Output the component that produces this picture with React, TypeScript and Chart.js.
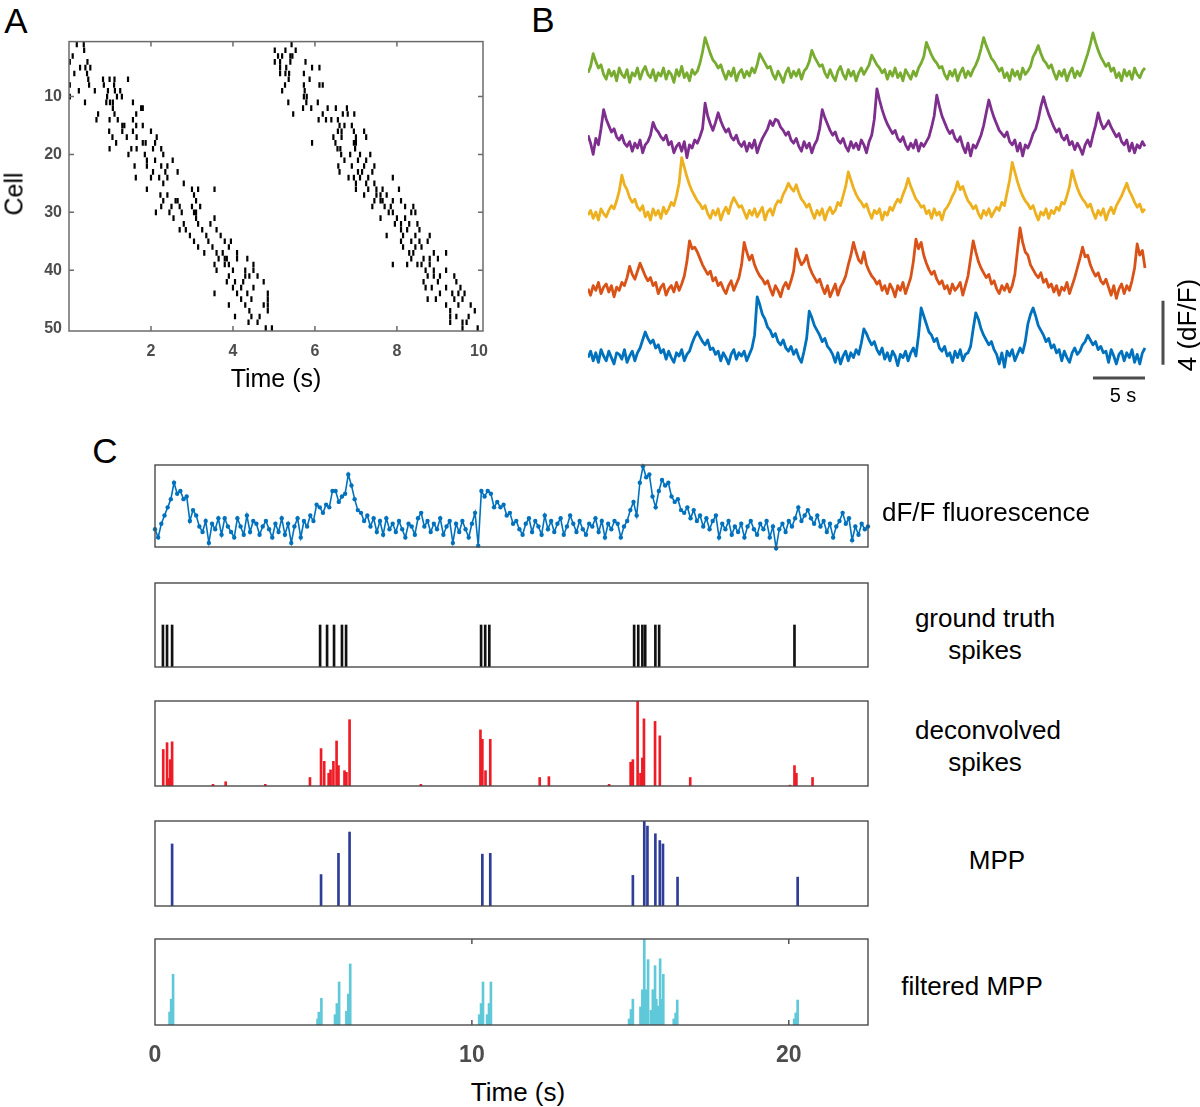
import React, { useEffect, useRef } from "react";
import { Chart, registerables } from "chart.js";
Chart.register(...registerables);

const FONT = '"Liberation Sans", Arial, Helvetica, sans-serif';

// ---------------- Panel A: raster (spike times in s, per cell 1..50) ----------------
const cellSpikeTimes: number[][] = [
  [0.19, 0.36, 5.43],
  [0.37, 5.02, 5.28, 5.53],
  [0.09, 5.1, 5.2, 5.4, 5.45],
  [0.02, 0.45, 5.02, 5.15, 5.4, 5.77],
  [0.27, 0.4, 0.52, 5.15, 5.3, 5.93, 6.11],
  [0.13, 0.44, 5.15, 5.28, 5.37, 5.73],
  [0.47, 0.83, 0.99, 1.11, 1.44, 5.36, 5.87],
  [0.02, 0.49, 0.85, 1.1, 5.27, 5.73, 6.11, 6.19],
  [0.24, 0.63, 0.95, 1.12, 1.25, 5.2, 5.75],
  [0.02, 0.93, 1.17, 1.29, 5.73, 5.8],
  [0.39, 0.91, 1.0, 1.07, 1.56, 5.35, 5.79, 6.07],
  [1.07, 1.76, 1.8, 5.71, 5.91, 6.31, 6.51, 6.78],
  [0.71, 1.11, 1.64, 5.47, 6.19, 6.68, 6.8, 6.96],
  [0.67, 0.99, 1.19, 1.56, 6.09, 6.27, 6.4, 6.56],
  [1.3, 1.35, 1.64, 1.8, 6.6, 6.72, 6.9],
  [0.98, 1.3, 1.56, 2.0, 6.56, 6.65, 6.95, 7.2],
  [1.06, 1.41, 1.65, 2.14, 6.45, 6.65, 7.0, 7.25],
  [1.15, 1.8, 1.87, 2.1, 5.93, 6.5, 6.95, 7.0],
  [0.99, 1.52, 1.65, 2.05, 2.25, 6.55, 6.62, 6.98],
  [1.45, 1.85, 2.3, 6.64, 6.86, 7.1, 7.35],
  [1.9, 2.1, 2.53, 6.72, 7.05, 7.25],
  [1.6, 1.9, 2.25, 2.4, 6.57, 6.9, 7.2, 7.45],
  [2.05, 2.35, 2.65, 6.6, 7.05, 7.15, 7.4],
  [1.63, 2.0, 2.2, 2.4, 6.82, 6.95, 7.1, 7.3, 7.9],
  [2.3, 2.8, 7.0, 7.25, 7.45],
  [1.9, 3.0, 3.15, 3.55, 7.0, 7.3, 7.5, 7.65, 8.05],
  [2.23, 2.4, 3.05, 7.2, 7.5, 7.6, 7.75],
  [2.3, 2.6, 2.65, 3.1, 7.45, 7.6, 7.65, 7.9, 8.1],
  [2.25, 2.5, 2.7, 3.0, 3.2, 7.4, 7.7, 7.85, 8.2, 8.4],
  [2.12, 2.45, 2.75, 3.05, 3.1, 7.8, 7.9, 8.35, 8.45],
  [2.55, 3.1, 3.55, 7.6, 8.0, 8.2],
  [2.8, 3.15, 3.45, 7.95, 8.1, 8.3, 8.5],
  [2.7, 2.85, 3.25, 3.6, 8.1, 8.25, 8.55],
  [2.95, 3.35, 3.7, 7.75, 8.15, 8.45, 8.8],
  [3.05, 3.4, 3.8, 3.95, 8.1, 8.35, 8.55, 8.75],
  [3.15, 3.5, 3.9, 8.15, 8.45, 8.6],
  [3.3, 3.6, 3.75, 4.1, 8.3, 8.4, 8.9, 9.2],
  [3.65, 3.8, 3.85, 4.1, 4.35, 8.35, 8.65, 8.8, 9.0],
  [3.55, 3.8, 3.9, 4.5, 7.9, 8.25, 8.5, 8.6, 8.8],
  [3.6, 4.0, 4.3, 4.5, 8.7, 8.9, 9.2],
  [3.9, 4.3, 4.4, 4.6, 8.75, 8.9, 9.05, 9.4],
  [3.85, 4.05, 4.25, 4.75, 8.65, 9.0, 9.45],
  [4.0, 4.2, 4.5, 8.7, 8.85, 9.2, 9.55],
  [3.55, 4.1, 4.35, 4.85, 9.05, 9.35, 9.5, 9.65],
  [4.2, 4.45, 4.85, 8.75, 8.95, 9.4, 9.6],
  [3.9, 4.3, 4.75, 4.85, 9.2, 9.5, 9.8],
  [4.4, 4.85, 9.3, 9.9],
  [4.05, 4.45, 4.65, 9.3, 9.45, 9.75],
  [4.38, 4.6, 9.3, 9.6, 9.7],
  [4.8, 4.95, 9.6, 9.97],
];
const rasterXTicks = [2, 4, 6, 8, 10];
const rasterYTicks = [10, 20, 30, 40, 50];

// ---------------- Panel B: five traces (tenths of dF/F, sampled every 0.25 s) ----------------
const traceStep = 0.25;
const greenTrace = [
  2, 6, 14, 9, 5, 7, 1, -2, 4, 0, 3, -3, 5, 1, -1, 4, -4, 2, 0, 5,
  -2, 3, 6, 1, -1, 4, -3, 2, 0, 5, -2, 3, 1, -4, 4, 0, 6, -1, 2, -3,
  4, 1, 3, 8, 15, 24, 19, 14, 10, 8, 5, 7, 2, -2, 3, 0, 5, -3, 2, 4,
  -1, 3, 0, 5, 2, 7, 14, 11, 8, 5, 6, 1, -2, 3, 0, -4, 2, 5, -1, 3,
  0, 4, -2, 3, 5, 9, 16, 12, 9, 6, 7, 2, -1, 4, 0, -3, 3, 6, 1, -2,
  4, 0, 3, -3, 2, 5, 1, 4, 7, 13, 10, 7, 5, 2, 4, -2, 3, 0, 5, -1,
  2, -3, 4, 1, -2, 3, 0, 5, 8, 12, 21, 17, 13, 10, 8, 5, 6, 1, -2, 3,
  0, 4, -3, 2, 5, -1, 3, 0, 4, 7, 11, 17, 24, 19, 15, 11, 9, 6, 3, 5,
  -1, 2, -3, 4, 0, 3, -2, 5, 1, 3, 6, 12, 15, 19, 14, 10, 8, 5, 7, 2,
  -2, 3, 0, 4, -3, 2, 5, -1, 3, 0, 4, 9, 14, 20, 27, 21, 16, 12, 9, 6,
  8, 3, 5, -1, 2, -3, 4, 0, 3, -2, 5, 1, -1, 3, 5,
];
const purpleTrace = [
  8, 3, -4, 6, 2, 12, 24, 18, 14, 10, 12, 7, 5, 8, 3, 1, 4, -2, 3, 0,
  5, -3, 2, 4, 8, 16, 12, 10, 7, 5, 8, 2, 4, -3, 1, 3, -2, 4, -6, 2,
  0, 5, 3, 7, 12, 28, 20, 15, 11, 16, 22, 17, 13, 10, 12, 7, 5, 8, 3, 1,
  4, -2, 3, 0, 5, -3, 2, 6, 9, 12, 17, 14, 18, 17, 13, 11, 8, 10, 5, 3,
  6, 1, -2, 4, 0, 3, -3, 2, 5, 12, 24, 19, 15, 11, 8, 10, 5, 3, 6, 1,
  -2, 4, 0, 3, -1, 5, 2, -3, 4, 8, 18, 37, 30, 24, 19, 15, 12, 9, 11, 6,
  4, 7, 2, -1, 3, 0, 5, -2, 3, 1, 4, 7, 13, 20, 33, 26, 20, 16, 12, 9,
  11, 6, 4, 7, 1, -3, 3, -5, 2, 0, 4, 8, 14, 22, 30, 24, 19, 15, 11, 9,
  7, 10, 4, 2, 5, -2, 3, -5, 2, 0, 4, 9, 12, 18, 26, 32, 26, 21, 17, 13,
  10, 12, 7, 5, 8, 2, 4, -1, 3, 0, -4, 2, 5, 1, 8, 14, 22, 16, 12, 14,
  17, 13, 10, 7, 9, 4, 2, 5, -2, 3, -3, 2, 0, 4, 1,
];
const yellowTrace = [
  0, 3, -2, 2, -3, 4, 1, -1, 3, 6, 4, 9, 15, 25, 19, 16, 11, 8, 10, 5,
  3, 6, -1, 2, -3, 4, 0, 3, -2, 5, 1, 4, 8, 6, 12, 20, 36, 30, 24, 19,
  15, 12, 9, 7, 4, 6, 1, -2, 3, 0, 4, -3, 2, 5, 1, 7, 11, 8, 5, 6,
  2, -2, 3, 0, 4, -1, 2, 5, -3, 2, 4, 0, 6, 9, 8, 13, 16, 20, 17, 15,
  19, 14, 10, 8, 5, 7, 2, -2, 3, 0, 4, -3, 2, 5, 1, 3, 8, 6, 12, 18,
  27, 22, 17, 13, 10, 8, 5, 7, 2, -2, 3, 1, 4, -3, 2, 0, 5, 3, 7, 10,
  8, 13, 17, 23, 18, 14, 10, 8, 5, 6, 1, 3, -2, 4, 0, 2, -3, 3, 5, 8,
  12, 15, 21, 16, 18, 13, 9, 7, 4, 6, 1, -2, 3, 0, 4, -1, 2, 5, 3, 8,
  6, 14, 22, 33, 27, 21, 16, 12, 9, 7, 4, 6, 1, -3, 2, 0, 4, -2, 3, 1,
  5, 3, 8, 7, 12, 18, 28, 22, 17, 13, 10, 8, 5, 7, 2, -2, 3, 0, 4, -3,
  2, 5, 1, 6, 9, 12, 16, 20, 15, 12, 8, 5, 7, 2, 4,
];
const orangeTrace = [
  1, -3, 3, 0, 5, -2, 2, 4, -1, 3, -4, 2, 0, 5, 3, 8, 15, 10, 7, 12,
  17, 13, 9, 6, 8, 3, 5, -2, 2, 4, -3, 1, 3, -1, 5, 0, 4, 9, 18, 31,
  26, 27, 24, 20, 16, 13, 10, 12, 6, 8, 3, 5, 1, -2, 3, 6, 0, 4, 8, 16,
  30, 24, 19, 22, 16, 12, 9, 7, 4, 6, 1, -3, 3, 0, -4, 2, 5, 1, 6, 12,
  26, 20, 16, 18, 22, 15, 11, 8, 5, 7, 2, -2, 3, -4, 0, 4, -3, 2, 5, 9,
  16, 22, 30, 24, 19, 17, 24, 16, 12, 9, 7, 4, 6, 0, 3, -2, 4, 1, -4, 3,
  0, 5, -2, 3, 8, 18, 32, 26, 30, 22, 17, 13, 10, 12, 7, 4, 6, 1, 3, -2,
  4, 0, 2, 5, -3, 3, 9, 20, 31, 24, 18, 14, 11, 8, 10, 4, 6, 1, -2, 3,
  0, 4, -1, 3, 10, 25, 39, 30, 24, 22, 16, 13, 10, 8, 11, 5, 7, 2, 4, -1,
  3, -3, 2, 0, 5, -2, 3, 8, 14, 20, 27, 21, 22, 16, 12, 9, 11, 6, 4, 7,
  2, -3, 3, -5, 1, 4, -2, 3, 0, 6, 14, 29, 22, 25, 14,
];
const blueTrace = [
  0, 4, -2, 3, -3, 5, 1, -2, 4, 0, -4, 3, 2, -1, 5, -3, 1, 4, -2, 3,
  6, 11, 16, 12, 9, 11, 6, 8, 3, 5, -1, 4, 0, -3, 3, 1, 5, -2, 2, 4,
  9, 13, 16, 13, 10, 8, 11, 5, 6, 2, 4, -2, 3, 0, -4, 2, 5, -1, 3, 1,
  4, -2, 2, 6, 14, 38, 33, 27, 24, 19, 17, 13, 15, 10, 8, 11, 6, 4, 7, 2,
  5, 0, -3, 4, 12, 29, 25, 20, 17, 14, 10, 12, 7, 5, 2, -3, 3, -4, 1, 4,
  -2, 3, 0, 5, 2, 9, 18, 15, 11, 8, 10, 5, 2, 6, -1, 3, -2, 4, 1, -5,
  2, 0, 4, -2, 3, 6, 1, 14, 31, 26, 21, 16, 14, 10, 12, 6, 4, 7, 1, 3,
  -3, 4, 0, 5, -2, 2, 3, 7, 18, 28, 24, 18, 14, 11, 8, 10, 5, 2, -4, 3,
  -6, 4, 1, 5, -2, 2, 6, 3, 10, 21, 27, 31, 26, 20, 17, 14, 10, 12, 6, 8,
  3, 5, -2, 4, 0, -3, 3, 6, 2, 4, 8, 10, 14, 11, 8, 10, 5, 7, 3, 4,
  -3, 5, 1, -4, 2, 4, -2, 3, 0, 5, -3, 2, -4, 3, 6,
];
const traceSeries = [greenTrace, purpleTrace, yellowTrace, orangeTrace, blueTrace];
const traceColors = ["#77ac30", "#7e2f8e", "#edb120", "#d95319", "#0072bd"];
const traceOffsets = [19.0, 14.5, 10.3, 5.6, 1.4]; // vertical stacking, dF/F
const traceDuration = 53.5;
const scaleBarSeconds = 5;
const scaleBarDff = 4;

// ---------------- Panel C ----------------
const dffStep = 0.1; // s
const dffTrace = [
  0, -3, 2, 5, 8, 11, 17, 13, 14, 11,
  12, 3, 7, 5, 1, -1, 3, -5, 2, 0,
  4, -2, 4, 1, -1, -3, 4, 1, -2, 5,
  -1, 3, 2, -2, 1, 3, 0, -3, 2, -1,
  4, -2, 2, -5, 1, 4, -3, 3, 1, 5,
  3, 9, 8, 6, 9, 8, 14, 14, 10, 12,
  13, 20, 16, 11, 7, 6, 3, 5, 1, 4,
  -1, 3, -2, 4, 0, 2, -1, 3, 0, -3,
  2, 1, -2, 4, 6, 1, 3, -1, 2, 0,
  4, -2, 1, 3, -5, 2, -1, 3, 0, -3,
  2, 6, -6, 14, 12, 14, 13, 8, 10, 8,
  9, 5, 6, 2, 3, 0, -2, 2, 4, -1,
  3, 1, -2, 5, 0, 3, -1, 2, 4, -2,
  1, 5, 2, -1, 3, 0, -2, 2, 1, 4,
  -1, 3, -3, 2, 0, 3, 2, -3, 1, 3,
  7, 10, 5, 17, 23, 19, 20, 12, 8, 14,
  18, 16, 17, 12, 10, 11, 7, 6, 8, 4,
  7, 3, 5, 1, 4, 0, 3, 5, -3, 2,
  0, 3, -2, 1, -1, 2, -3, 1, 3, 0,
  -2, 2, 0, 3, -3, 1, -7, 0, 2, -1,
  3, 1, 4, 8, 3, 5, 7, 4, 2, 5,
  1, 3, -1, 2, -3, 1, 3, 6, 2, 4,
  -4, 1, -2, 2, 0, 1,
]; // tenths of dF/F
const groundTruthTimes = [0.25, 0.38, 0.54, 5.21, 5.43, 5.65, 5.9, 6.03, 10.29, 10.42, 10.55, 15.12, 15.25, 15.38, 15.47, 15.79, 15.91, 20.18];
const groundTruthHeight = 0.5;
const deconvTimes = [0.26, 0.38, 0.42, 0.48, 0.54, 1.83, 2.23, 3.48, 4.89, 5.24, 5.34, 5.48, 5.54, 5.63, 5.73, 5.79, 5.98, 6.04, 6.14, 8.39, 10.27, 10.33, 10.43, 10.58, 12.14, 12.43, 14.33, 15.01, 15.08, 15.23, 15.32, 15.38, 15.43, 15.78, 15.93, 16.89, 20.04, 20.18, 20.24, 20.75];
const deconvAmps = [0.43, 0.51, 0.09, 0.31, 0.52, 0.02, 0.05, 0.02, 0.1, 0.44, 0.29, 0.15, 0.19, 0.29, 0.53, 0.24, 0.18, 0.16, 0.78, 0.02, 0.66, 0.55, 0.18, 0.55, 0.1, 0.11, 0.02, 0.28, 0.31, 1.0, 0.15, 0.33, 0.79, 0.76, 0.59, 0.1, 0.01, 0.24, 0.15, 0.1];
const mppTimes = [0.54, 5.24, 5.79, 6.14, 10.33, 10.58, 15.08, 15.44, 15.54, 15.79, 15.93, 16.03, 16.49, 20.28];
const mppAmps = [0.73, 0.37, 0.62, 0.87, 0.61, 0.62, 0.36, 1.0, 0.94, 0.85, 0.77, 0.73, 0.34, 0.34];
const filtTimes = [0.46, 0.51, 0.57, 5.13, 5.17, 5.25, 5.68, 5.74, 5.81, 6.04, 6.1, 6.16, 10.23, 10.29, 10.35, 10.48, 10.54, 10.6, 14.96, 15.02, 15.08, 15.32, 15.38, 15.44, 15.5, 15.56, 15.65, 15.71, 15.78, 15.82, 15.88, 15.94, 15.99, 16.04, 16.37, 16.43, 16.48, 20.17, 20.22, 20.28];
const filtAmps = [0.15, 0.3, 0.59, 0.07, 0.15, 0.31, 0.12, 0.25, 0.5, 0.16, 0.36, 0.71, 0.12, 0.25, 0.5, 0.12, 0.25, 0.5, 0.07, 0.18, 0.3, 0.21, 0.41, 1.0, 0.41, 0.76, 0.17, 0.41, 0.69, 0.3, 0.22, 0.77, 0.3, 0.59, 0.07, 0.14, 0.29, 0.07, 0.14, 0.29];
const cDuration = 22.5;
const cTicks = [0, 10, 20];

// ---------------- plugins ----------------
const boxFrame: any = {
  id: "boxFrame",
  afterDatasetsDraw(chart: any, _args: any, opts: any) {
    if (!opts || !opts.show) return;
    const { ctx, chartArea: a, scales } = chart;
    ctx.save();
    ctx.strokeStyle = opts.color;
    ctx.lineWidth = opts.width;
    ctx.strokeRect(a.left, a.top, a.right - a.left, a.bottom - a.top);
    const L = opts.len || 5;
    ctx.beginPath();
    (opts.xTicks || []).forEach((v: number) => {
      const x = scales.x.getPixelForValue(v);
      ctx.moveTo(x, a.bottom);
      ctx.lineTo(x, a.bottom - L);
      ctx.moveTo(x, a.top);
      ctx.lineTo(x, a.top + L);
    });
    (opts.yTicks || []).forEach((v: number) => {
      const y = scales.y.getPixelForValue(v);
      ctx.moveTo(a.left, y);
      ctx.lineTo(a.left + L, y);
      ctx.moveTo(a.right, y);
      ctx.lineTo(a.right - L, y);
    });
    ctx.stroke();
    ctx.restore();
  },
};

const scaleBars: any = {
  id: "scaleBars",
  afterDatasetsDraw(chart: any, _args: any, opts: any) {
    if (!opts || !opts.show) return;
    const { ctx, chartArea: a, scales } = chart;
    const x = scales.x;
    const y = scales.y;
    ctx.save();
    ctx.strokeStyle = "#4d4d4d";
    ctx.lineWidth = 3;
    ctx.beginPath();
    const yb = a.bottom - 2;
    ctx.moveTo(x.getPixelForValue(x.max - opts.seconds), yb);
    ctx.lineTo(x.getPixelForValue(x.max), yb);
    const xv = a.right + 18;
    ctx.moveTo(xv, y.getPixelForValue(opts.base));
    ctx.lineTo(xv, y.getPixelForValue(opts.base + opts.dff));
    ctx.stroke();
    ctx.restore();
  },
};

function ChartCanvas(props: { left: number; top: number; width: number; height: number; build: () => any }) {
  const ref = useRef<HTMLCanvasElement>(null);
  useEffect(() => {
    const chart = new Chart(ref.current as HTMLCanvasElement, props.build());
    return () => chart.destroy();
  }, []);
  return (
    <canvas
      ref={ref}
      width={props.width}
      height={props.height}
      style={{ position: "absolute", left: props.left, top: props.top, width: props.width, height: props.height }}
    />
  );
}

const baseOpts = {
  responsive: false,
  animation: false,
  devicePixelRatio: 1,
  events: [],
};

function rasterConfig() {
  const pts: { x: number; y: number }[] = [];
  cellSpikeTimes.forEach((times, i) => times.forEach((t) => pts.push({ x: t, y: i + 1 })));
  return {
    type: "scatter",
    data: {
      datasets: [
        { data: pts, pointStyle: "line", rotation: 90, radius: 2.8, borderColor: "#000", backgroundColor: "#000", borderWidth: 2.2 },
      ],
    },
    plugins: [boxFrame],
    options: {
      ...baseOpts,
      layout: { padding: { top: 8, right: 16, left: 0, bottom: 0 } },
      plugins: {
        legend: { display: false },
        tooltip: { enabled: false },
        boxFrame: { show: true, color: "#6b6b6b", width: 1.5, len: 5, xTicks: rasterXTicks.slice(0, 4), yTicks: rasterYTicks.slice(0, 4) },
      },
      scales: {
        x: {
          type: "linear", min: 0, max: 10.1,
          grid: { display: false, drawTicks: false }, border: { display: false },
          afterBuildTicks: (s: any) => { s.ticks = rasterXTicks.map((v) => ({ value: v })); },
          afterFit: (s: any) => { s.height = 39; },
          ticks: { font: { family: FONT, size: 16, weight: "bold" }, color: "#4d4d4d", padding: 11, maxRotation: 0 },
        },
        y: {
          type: "linear", min: 0.5, max: 50.5, reverse: true,
          grid: { display: false, drawTicks: false }, border: { display: false },
          afterBuildTicks: (s: any) => { s.ticks = rasterYTicks.map((v) => ({ value: v })); },
          afterFit: (s: any) => { s.width = 60; },
          ticks: { font: { family: FONT, size: 16, weight: "bold" }, color: "#4d4d4d", padding: 7 },
        },
      },
    },
  };
}

function tracesConfig() {
  return {
    type: "line",
    data: {
      datasets: traceSeries.map((vals, k) => ({
        data: vals.map((v, i) => ({ x: i * traceStep, y: traceOffsets[k] + v / 10 })),
        borderColor: traceColors[k],
        borderWidth: 2.8,
        pointRadius: 0,
        tension: 0,
        clip: false,
        borderJoinStyle: "round",
      })),
    },
    plugins: [scaleBars],
    options: {
      ...baseOpts,
      layout: { padding: { top: 0, right: 55, left: 0, bottom: 30 } },
      plugins: {
        legend: { display: false },
        tooltip: { enabled: false },
        scaleBars: { show: true, seconds: scaleBarSeconds, dff: scaleBarDff, base: 0.95 },
      },
      scales: {
        x: { type: "linear", display: false, min: 0, max: traceDuration },
        y: { type: "linear", display: false, min: 0, max: 22.5 },
      },
    },
  };
}

function cConfig(kind: string, withAxis: boolean) {
  let datasets: any[] = [];
  let type = "bar";
  let yMin = 0;
  let yMax = 1;
  if (kind === "dff") {
    type = "line";
    yMin = -0.65;
    yMax = 2.35;
    datasets = [
      {
        data: dffTrace.map((v, i) => ({ x: i * dffStep, y: v / 10 })),
        borderColor: "#0072bd",
        borderWidth: 1.6,
        pointRadius: 2.2,
        pointBackgroundColor: "#0072bd",
        pointBorderWidth: 0,
        tension: 0,
        clip: false,
      },
    ];
  } else {
    let times: number[] = [];
    let amps: number[] = [];
    let color = "#000";
    if (kind === "gt") { times = groundTruthTimes; amps = groundTruthTimes.map(() => groundTruthHeight); color = "#111"; }
    if (kind === "deconv") { times = deconvTimes; amps = deconvAmps; color = "#ee1c25"; }
    if (kind === "mpp") { times = mppTimes; amps = mppAmps; color = "#2e3d98"; }
    if (kind === "filt") { times = filtTimes; amps = filtAmps; color = "#5fc9d9"; }
    datasets = [
      {
        data: times.map((t, i) => ({ x: t, y: amps[i] })),
        backgroundColor: color,
        borderWidth: 0,
        barThickness: 2,
        grouped: false,
      },
    ];
  }
  const xScale: any = {
    type: "linear", min: 0, max: cDuration, offset: false, display: withAxis,
    grid: { display: false, drawTicks: false, offset: false }, border: { display: false },
  };
  if (withAxis) {
    xScale.afterBuildTicks = (s: any) => { s.ticks = cTicks.map((v) => ({ value: v })); };
    xScale.afterFit = (s: any) => { s.height = 42; s.paddingLeft = 0; s.paddingRight = 0; };
    xScale.ticks = { font: { family: FONT, size: 23, weight: "bold" }, color: "#4d4d4d", padding: 17, maxRotation: 0 };
  }
  return {
    type,
    data: { datasets },
    plugins: [boxFrame],
    options: {
      ...baseOpts,
      layout: { padding: { top: 2, right: 20, left: 20, bottom: withAxis ? 0 : 2 } },
      plugins: {
        legend: { display: false },
        tooltip: { enabled: false },
        boxFrame: { show: true, color: "#4a4a4a", width: 1.4, len: 5, xTicks: withAxis ? [10, 20] : [], yTicks: [] },
      },
      scales: {
        x: xScale,
        y: { type: "linear", display: false, min: yMin, max: yMax },
      },
    },
  };
}

function Label(props: { x: number; y: number; size: number; text: string; rotate?: boolean }) {
  return (
    <div
      style={{
        position: "absolute",
        left: props.x,
        top: props.y,
        transform: `translate(-50%, -50%)${props.rotate ? " rotate(-90deg)" : ""}`,
        fontFamily: FONT,
        fontSize: props.size,
        color: "#000",
        whiteSpace: "nowrap",
        lineHeight: 1,
      }}
    >
      {props.text}
    </div>
  );
}

const cBoxes = [
  { kind: "dff", top: 463, bottom: 549 },
  { kind: "gt", top: 583, bottom: 667 },
  { kind: "deconv", top: 701, bottom: 786 },
  { kind: "mpp", top: 821, bottom: 906 },
  { kind: "filt", top: 939, bottom: 1025 },
];

export default function App() {
  return (
    <div style={{ position: "absolute", left: 0, top: 0, width: 1200, height: 1107, background: "#fff", overflow: "hidden" }}>
      <Label x={16} y={20} size={35} text="A" />
      <Label x={543} y={19} size={35} text="B" />
      <Label x={105} y={450} size={35} text="C" />

      <ChartCanvas left={9} top={25} width={490} height={345} build={rasterConfig} />
      <Label x={276} y={378} size={25} text="Time (s)" />
      <Label x={14} y={194} size={25} text="Cell" rotate />

      <ChartCanvas left={588} top={20} width={612} height={390} build={tracesConfig} />
      <Label x={1123} y={395} size={20} text="5 s" />
      <Label x={1187} y={325} size={26} text="4 (dF/F)" rotate />

      {cBoxes.map((b, i) => {
        const last = i === cBoxes.length - 1;
        return (
          <ChartCanvas
            key={b.kind}
            left={135}
            top={b.top - 2}
            width={753}
            height={b.bottom - b.top + (last ? 44 : 4)}
            build={() => cConfig(b.kind, last)}
          />
        );
      })}
      <Label x={986} y={512} size={26} text="dF/F fluorescence" />
      <Label x={985} y={618} size={26} text="ground truth" />
      <Label x={985} y={650} size={26} text="spikes" />
      <Label x={988} y={730} size={26} text="deconvolved" />
      <Label x={985} y={762} size={26} text="spikes" />
      <Label x={997} y={860} size={26} text="MPP" />
      <Label x={972} y={986} size={26} text="filtered MPP" />
      <Label x={518} y={1092} size={26} text="Time (s)" />
    </div>
  );
}
